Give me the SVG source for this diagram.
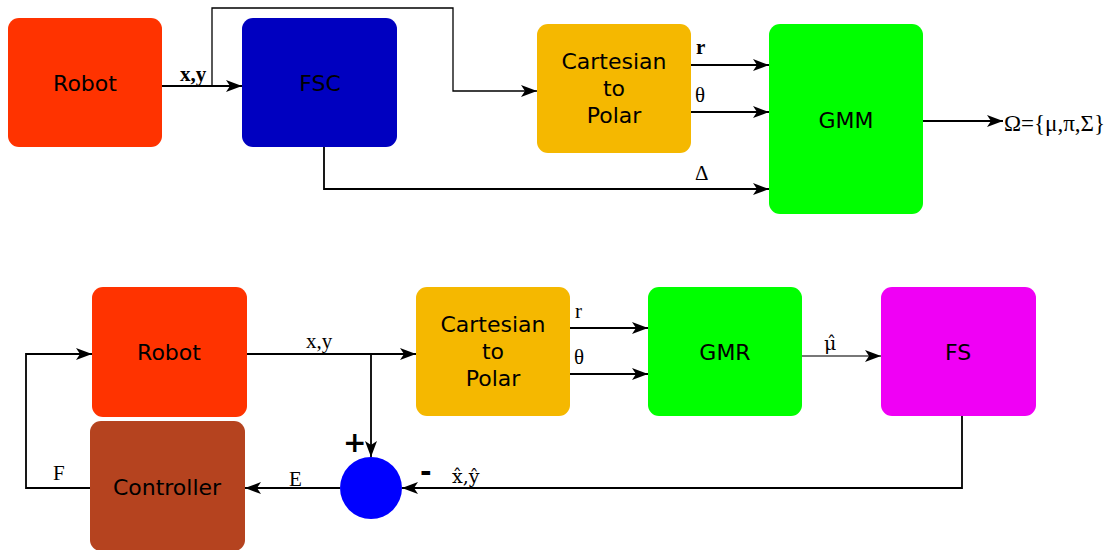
<svg xmlns="http://www.w3.org/2000/svg" width="1117" height="550" viewBox="0 0 1117 550">
<style>
.box{rx:11px;ry:11px}
.t{font-family:"DejaVu Sans",Verdana,sans-serif;font-size:22px;fill:#000;text-anchor:middle}
.l{font-family:"Liberation Serif","Times New Roman",serif;font-size:21px;fill:#000}
.h{font-family:"DejaVu Serif",serif;font-size:19px;fill:#000}
.s{font-family:"DejaVu Sans",sans-serif;font-size:28px;font-weight:bold;fill:#000}
.c{fill:none;stroke:#000;stroke-width:1.8}
</style>
<defs>
<marker id="a" viewBox="0 0 16 12" refX="16" refY="6" markerWidth="16" markerHeight="12" markerUnits="userSpaceOnUse" orient="auto">
<path d="M0,0 L16,6 L0,12 L4,6 Z" fill="#000"/>
</marker>
</defs>
<g id="robot1"><rect class="box" x="8" y="18" width="154" height="129" fill="#ff3300"/><text class="t" x="85" y="91">Robot</text></g>
<g id="fsc"><rect class="box" x="242" y="18" width="155" height="129" fill="#0000c0"/><text class="t" x="320" y="91">FSC</text></g>
<g id="cart1"><rect class="box" x="537" y="24" width="154" height="129" fill="#f5b800"/><text class="t" x="614" y="69">Cartesian</text><text class="t" x="614" y="96">to</text><text class="t" x="614" y="123">Polar</text></g>
<g id="gmm"><rect class="box" x="769" y="24" width="154" height="190" fill="#00ff00"/><text class="t" x="846" y="128">GMM</text></g>
<g id="robot2"><rect class="box" x="92" y="287" width="155" height="130" fill="#ff3300"/><text class="t" x="169" y="360">Robot</text></g>
<g id="controller"><rect class="box" x="90" y="421" width="155" height="130" fill="#b5431f"/><text class="t" x="167" y="495">Controller</text></g>
<g id="cart2"><rect class="box" x="416" y="287" width="154" height="129" fill="#f5b800"/><text class="t" x="493" y="332">Cartesian</text><text class="t" x="493" y="359">to</text><text class="t" x="493" y="386">Polar</text></g>
<g id="gmr"><rect class="box" x="648" y="287" width="154" height="129" fill="#00ff00"/><text class="t" x="725" y="360">GMR</text></g>
<g id="fs"><rect class="box" x="881" y="287" width="155" height="129" fill="#f000f5"/><text class="t" x="958" y="360">FS</text></g>
<g id="sum"><circle cx="371" cy="488" r="31" fill="#0000ff"/></g>
<g id="connectors">
<path class="c" d="M162,86 H242" marker-end="url(#a)"/>
<path class="c" d="M212,86 V8 H453 V91 H537" style="stroke-width:1.3" marker-end="url(#a)"/>
<path class="c" d="M691,65 H769" marker-end="url(#a)"/>
<path class="c" d="M691,112 H769" marker-end="url(#a)"/>
<path class="c" d="M324,147 V189 H769" marker-end="url(#a)"/>
<path class="c" d="M923,121 H1003" marker-end="url(#a)"/>
<path class="c" d="M247,354 H416" marker-end="url(#a)"/>
<path class="c" d="M371,354 V457" marker-end="url(#a)"/>
<path class="c" d="M570,328 H648" marker-end="url(#a)"/>
<path class="c" d="M570,374 H648" marker-end="url(#a)"/>
<path class="c" d="M802,356 H881" style="stroke:#777" marker-end="url(#a)"/>
<path class="c" d="M962,416 V488 H402" marker-end="url(#a)"/>
<path class="c" d="M340,488 H245" marker-end="url(#a)"/>
<path class="c" d="M90,488 H26 V354 H92" marker-end="url(#a)"/>
</g>
<g id="labels">
<text class="l" x="180" y="81" style="font-weight:bold">x,y</text>
<text class="l" x="696" y="54" style="font-weight:bold">r</text>
<text class="l" x="695" y="102">θ</text>
<text class="l" x="695" y="180">Δ</text>
<text class="l" x="1004" y="131" style="font-size:23px">Ω={μ,π,Σ}</text>
<text class="l" x="306" y="348">x,y</text>
<text class="l" x="575" y="318">r</text>
<text class="l" x="574" y="364">θ</text>
<text class="h" x="824" y="350">μ̂</text>
<text class="s" x="343" y="452">+</text>
<text class="s" x="420" y="481">-</text>
<text class="h" x="452" y="483">x̂,ŷ</text>
<text class="l" x="289" y="486">E</text>
<text class="l" x="53" y="480">F</text>
</g>
</svg>
